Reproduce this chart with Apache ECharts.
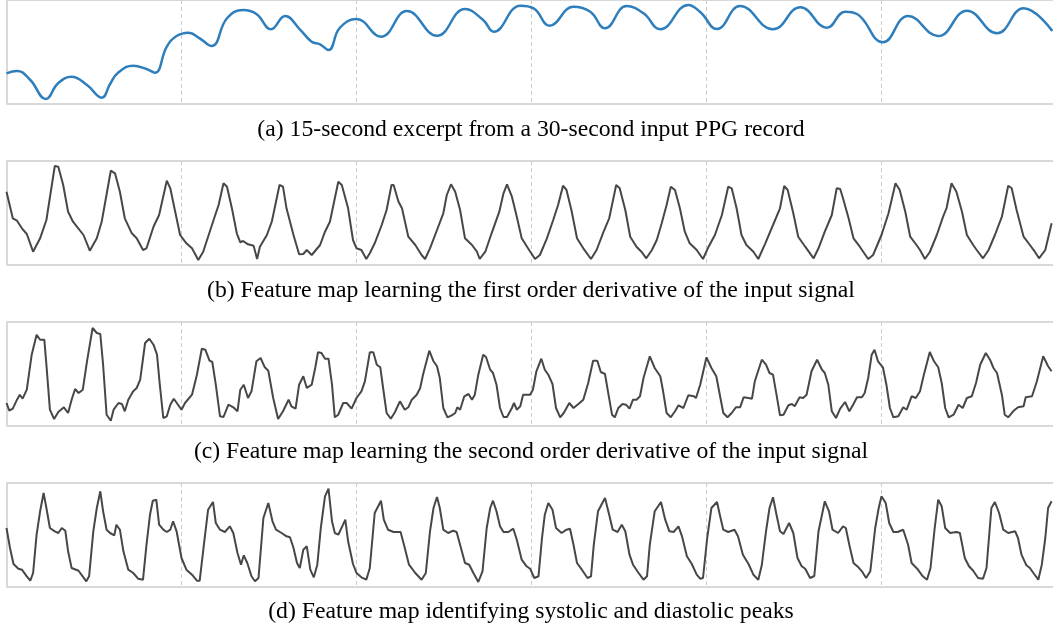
<!DOCTYPE html>
<html>
<head>
<meta charset="utf-8">
<script src="https://cdn.jsdelivr.net/npm/echarts@6/dist/echarts.min.js"></script>
<style>
html,body{margin:0;padding:0;background:#fff;}
#chart{width:1053px;height:628px;}
</style>
</head>
<body>
<div id="chart"></div>
<script>
// time (s) , amplitude (a.u.)
const ppgInput = [[0,30.7],[0.15,33],[0.34,24],[0.56,5],[0.74,21],[0.93,27.3],[1.15,19],[1.36,6.3],[1.48,20],[1.59,31],[1.81,38.3],[2.00,35],[2.12,31.3],[2.29,57.3],[2.43,68],[2.60,71.3],[2.76,65.7],[2.93,58],[3.15,85.7],[3.38,94],[3.57,90],[3.78,74.7],[3.98,88],[4.19,74.7],[4.36,62.3],[4.48,59.7],[4.60,54],[4.76,76],[5.00,85],[5.35,67.3],[5.72,93],[6.15,68.3],[6.55,95],[6.81,84],[6.96,72.3],[7.34,98.3],[7.53,95.7],[7.76,78.3],[8.10,97.3],[8.34,92.3],[8.55,75.7],[8.86,98],[9.10,90.7],[9.34,74.7],[9.74,99],[9.91,92],[10.15,75],[10.48,98],[10.95,74.7],[11.34,96.7],[11.72,76.3],[11.98,92.3],[12.15,90],[12.52,61.7],[12.88,88],[13.31,68],[13.72,93.3],[14.15,70.7],[14.53,95.7],[14.94,73]];

const firstDeriv = [[0.00,73.3],[0.09,46.7],[0.15,44.3],[0.22,36.7],[0.29,31],[0.38,13.3],[0.48,26.7],[0.57,45],[0.69,99],[0.74,98.3],[0.81,80],[0.88,53.3],[0.95,43.3],[1.10,30],[1.19,14.3],[1.29,26.7],[1.36,43.3],[1.49,94.3],[1.55,91.7],[1.62,73.3],[1.69,46.7],[1.79,31.7],[1.86,26.7],[1.95,15],[2.00,16.7],[2.10,38.3],[2.18,50],[2.29,84.3],[2.34,76.7],[2.41,53.3],[2.48,30],[2.57,21.7],[2.65,16.7],[2.74,5],[2.81,13.3],[2.88,28.3],[2.95,43.3],[3.03,60],[3.10,81.7],[3.15,78.3],[3.22,56.7],[3.29,31.7],[3.34,22.7],[3.38,24],[3.45,20.7],[3.53,19.3],[3.58,6],[3.62,18.3],[3.72,30],[3.79,43.3],[3.90,80],[3.95,78.3],[4.00,56.7],[4.10,30],[4.18,10.7],[4.24,11],[4.29,15],[4.36,10],[4.48,20],[4.55,33.3],[4.62,43.3],[4.74,83.3],[4.79,80],[4.88,56.7],[4.95,25],[5.00,16.7],[5.07,15],[5.14,6],[5.19,11.7],[5.26,21.7],[5.36,40],[5.43,55],[5.50,80],[5.53,80],[5.60,63.3],[5.65,56.7],[5.74,28.3],[5.84,20],[5.93,10],[5.98,6],[6.05,16.7],[6.15,35],[6.24,51.7],[6.29,70],[6.35,80.7],[6.41,73.3],[6.48,55],[6.55,26.7],[6.65,20],[6.72,13.3],[6.76,6],[6.84,13.3],[6.93,31.7],[7.04,53.3],[7.10,71.7],[7.15,80.7],[7.22,68.3],[7.29,48.3],[7.36,26.7],[7.45,16.7],[7.55,6],[7.62,10],[7.72,26.7],[7.81,45],[7.88,60],[7.95,79.3],[8.00,75],[8.07,55],[8.15,26.7],[8.24,16.7],[8.35,6],[8.43,15],[8.53,33.3],[8.61,46.7],[8.71,80],[8.76,76.7],[8.84,55],[8.91,28.3],[9.00,18.3],[9.07,13.3],[9.14,6.7],[9.22,15],[9.29,25],[9.36,41.7],[9.43,60],[9.49,78.3],[9.55,75],[9.62,56.7],[9.69,33.3],[9.76,21.7],[9.86,15],[9.95,6],[10.03,18.3],[10.12,30],[10.22,50],[10.31,78.3],[10.36,76.7],[10.43,56.7],[10.50,30],[10.57,20],[10.67,13.3],[10.74,6],[10.84,21.7],[10.95,40],[11.05,56.7],[11.11,79],[11.16,75],[11.24,51.7],[11.31,28.3],[11.41,18.3],[11.53,6.7],[11.60,16.7],[11.69,33.3],[11.79,50],[11.86,76.7],[11.91,76],[11.95,66.7],[12.03,46.7],[12.10,26.7],[12.19,18.3],[12.31,6],[12.38,10],[12.50,30],[12.60,51.7],[12.70,81.7],[12.76,75],[12.84,53.3],[12.91,28.3],[13.00,20],[13.05,15],[13.12,6],[13.19,13],[13.29,30],[13.38,48.3],[13.43,57],[13.50,81.7],[13.57,73.3],[13.65,53.3],[13.72,30],[13.81,20],[13.86,15],[13.95,6.7],[14.03,15],[14.12,30],[14.22,48.3],[14.31,79.3],[14.36,76.7],[14.43,55],[14.53,28.3],[14.62,20],[14.69,13.3],[14.75,6.7],[14.84,15],[14.93,41.7]];

const secondDeriv = [[0.00,23],[0.04,15.3],[0.09,17.3],[0.15,26.3],[0.19,31.3],[0.23,27.3],[0.29,36.3],[0.36,71.3],[0.43,91.3],[0.48,86.3],[0.54,86.3],[0.57,61.3],[0.62,16.3],[0.68,7],[0.74,14],[0.82,18.7],[0.88,13],[0.93,26.3],[0.98,37],[1.03,33],[1.09,36.3],[1.15,64.7],[1.23,98],[1.29,93],[1.34,92],[1.38,61.3],[1.43,11.3],[1.49,5.3],[1.53,16.3],[1.60,23],[1.65,22],[1.69,14.7],[1.74,26.3],[1.81,34.7],[1.86,38],[1.91,46.3],[1.98,83],[2.04,87.3],[2.10,81.3],[2.15,71.3],[2.19,41.3],[2.24,8],[2.29,9.7],[2.34,21.3],[2.39,27.3],[2.45,21.3],[2.50,16.3],[2.55,23],[2.65,31.3],[2.72,51.3],[2.79,77.3],[2.84,76.3],[2.90,65.3],[2.94,64],[2.99,41.3],[3.05,9.7],[3.10,9],[3.17,21.3],[3.24,18.7],[3.30,14.7],[3.34,36.3],[3.39,41.3],[3.45,28],[3.50,34.7],[3.57,64.7],[3.63,68],[3.69,58.7],[3.74,55.3],[3.81,28],[3.88,7],[3.95,14.7],[4.03,26.3],[4.07,19.7],[4.13,17.3],[4.18,41.3],[4.24,49.7],[4.29,38],[4.36,41.3],[4.41,58],[4.45,73.7],[4.50,73],[4.55,67.3],[4.60,67.3],[4.65,41.3],[4.69,8.7],[4.74,11.3],[4.81,23],[4.86,23],[4.93,17.3],[4.95,16.3],[5.00,28],[5.07,34.7],[5.12,44.7],[5.19,73.7],[5.24,73.7],[5.29,61.3],[5.34,58.7],[5.38,38],[5.43,13],[5.49,7.3],[5.55,14],[5.62,24.7],[5.69,16.3],[5.74,18.7],[5.79,26.3],[5.86,31.3],[5.91,38],[5.95,51.3],[6.04,75.3],[6.10,64.7],[6.15,59.7],[6.19,48],[6.24,18],[6.30,8.7],[6.36,10.7],[6.41,13],[6.44,18.7],[6.48,16.3],[6.54,29.7],[6.60,32],[6.65,26.3],[6.69,31.3],[6.74,51.3],[6.81,71.3],[6.85,69],[6.91,56.3],[6.95,53],[7.00,41.3],[7.05,18],[7.10,9],[7.15,9],[7.22,18],[7.25,23],[7.29,16.3],[7.34,19.7],[7.38,31.3],[7.48,31.3],[7.52,36.3],[7.57,54.7],[7.64,67.3],[7.69,56.3],[7.74,51.3],[7.80,42],[7.85,18],[7.91,8.7],[7.96,13],[8.04,23],[8.10,18],[8.17,22],[8.24,26.3],[8.31,43],[8.38,65.3],[8.44,65.3],[8.49,54],[8.55,52],[8.60,31.3],[8.65,11.3],[8.69,8.7],[8.74,18],[8.80,22],[8.85,21.3],[8.90,17.3],[8.95,26.3],[9.00,26.3],[9.05,29.7],[9.10,48],[9.19,69.7],[9.26,58],[9.34,49.7],[9.38,34.7],[9.43,13],[9.49,8.7],[9.55,14.7],[9.60,20.7],[9.67,18],[9.74,30.7],[9.82,29.7],[9.85,28],[9.91,41.3],[10.00,68.7],[10.07,58],[10.14,49.7],[10.19,31.3],[10.24,13],[10.30,8.7],[10.36,13],[10.42,18.7],[10.48,18.7],[10.53,28.7],[10.60,28],[10.65,27.3],[10.69,44.7],[10.79,66.3],[10.85,61.3],[10.90,53],[10.95,51.3],[11.00,31.3],[11.05,10.7],[11.10,11.3],[11.17,20.7],[11.22,22],[11.26,19.7],[11.33,28.7],[11.38,28],[11.43,31.3],[11.50,54.7],[11.58,66.3],[11.65,56.3],[11.69,53],[11.74,41.3],[11.79,14.7],[11.85,8],[11.91,17.3],[11.98,24],[12.04,14.7],[12.10,22],[12.15,28.7],[12.22,28.7],[12.26,33],[12.31,48],[12.36,71.3],[12.40,76.3],[12.45,64.7],[12.52,58.7],[12.57,41.3],[12.62,18],[12.67,8.7],[12.74,9.7],[12.81,18.7],[12.86,16.3],[12.93,29.7],[12.99,28],[13.05,34.7],[13.10,49.7],[13.19,74],[13.25,64.7],[13.31,58.7],[13.36,43],[13.41,18],[13.46,8.7],[13.53,11.3],[13.60,21.3],[13.66,18],[13.72,28],[13.79,29.7],[13.85,43],[13.91,61.3],[13.99,73],[14.05,66.3],[14.10,58],[14.15,53],[14.22,31.3],[14.26,11.3],[14.31,8.7],[14.38,14.7],[14.45,18.7],[14.53,19.7],[14.56,28.7],[14.65,29.7],[14.72,44.7],[14.81,69.7],[14.88,59.7],[14.93,54.7]];

const peakMap = [[0.00,59],[0.05,39],[0.10,23],[0.17,18.3],[0.22,17.3],[0.29,10.7],[0.34,6.3],[0.38,14],[0.43,52.3],[0.48,75.7],[0.53,94],[0.57,79],[0.62,59],[0.69,55.7],[0.74,54],[0.79,59],[0.84,56.3],[0.88,35.7],[0.93,19],[1.03,16.3],[1.07,12.3],[1.14,5.7],[1.18,10.7],[1.24,55.7],[1.29,79],[1.34,95.7],[1.38,75.7],[1.43,57.3],[1.48,54],[1.54,51.7],[1.57,62.3],[1.62,57.3],[1.67,35.7],[1.74,17.3],[1.81,14],[1.88,8.3],[1.95,7.3],[2.00,42.3],[2.05,72.3],[2.09,86.3],[2.14,87.3],[2.18,62.3],[2.24,57.3],[2.29,55],[2.34,57.3],[2.38,65.7],[2.43,55.7],[2.50,29],[2.57,17.3],[2.65,12.3],[2.72,6.3],[2.76,6.3],[2.82,42.3],[2.88,77.3],[2.95,85],[2.99,64],[3.05,57.3],[3.12,55],[3.19,60.7],[3.24,54],[3.30,34],[3.35,22.3],[3.39,31.7],[3.44,24],[3.50,10.7],[3.55,5.7],[3.60,9],[3.67,69],[3.74,84],[3.80,65.7],[3.85,57.3],[3.93,54],[4.00,50.7],[4.05,49.7],[4.10,39],[4.15,24],[4.19,19],[4.24,37.3],[4.29,40.7],[4.34,17.3],[4.39,9.7],[4.44,22.3],[4.49,59],[4.55,90.7],[4.60,98.3],[4.65,65.7],[4.69,54],[4.74,52.3],[4.79,59.7],[4.84,67.3],[4.88,45.7],[4.95,23],[5.00,14],[5.07,9.7],[5.14,7.3],[5.19,19],[5.26,74],[5.35,86.3],[5.39,67.3],[5.45,57.3],[5.53,55],[5.63,55],[5.69,39],[5.75,22.3],[5.84,14],[5.93,7.3],[5.99,14],[6.05,55.7],[6.10,79],[6.15,90],[6.19,79],[6.24,57.3],[6.31,54],[6.38,56.3],[6.43,55],[6.48,42.3],[6.55,24],[6.61,22.3],[6.67,14],[6.74,5],[6.80,15.7],[6.86,59],[6.91,79],[6.95,86.3],[7.00,75.7],[7.05,60.7],[7.10,55],[7.17,55],[7.24,58.3],[7.29,47.3],[7.36,27.3],[7.43,20.7],[7.48,18.3],[7.54,9],[7.60,10.7],[7.65,49],[7.69,72.3],[7.74,84],[7.80,77.3],[7.85,59],[7.93,54],[8.00,57.3],[8.05,58.3],[8.10,42.3],[8.15,24],[8.22,17.3],[8.30,9],[8.35,10.7],[8.39,42.3],[8.45,75.7],[8.55,89],[8.61,72.3],[8.66,57.3],[8.73,55],[8.79,62.3],[8.84,55.7],[8.90,32.3],[8.95,22.3],[9.03,14],[9.10,7.3],[9.15,10.7],[9.19,42.3],[9.26,75.7],[9.35,85],[9.41,67.3],[9.47,55.7],[9.53,55],[9.60,60.7],[9.65,50.7],[9.72,30.7],[9.79,23],[9.81,21.7],[9.86,12.3],[9.91,8.3],[9.95,9],[10.01,49],[10.07,79],[10.15,85],[10.19,72.3],[10.24,57.3],[10.31,55],[10.40,57.3],[10.45,50.7],[10.52,32.3],[10.60,23],[10.67,12.3],[10.74,7.3],[10.79,22],[10.85,55.7],[10.90,79],[10.95,89.7],[11.00,72.3],[11.05,55.7],[11.10,53],[11.18,64],[11.24,54],[11.30,29],[11.36,20.7],[11.41,18.3],[11.48,9],[11.54,11],[11.60,55.7],[11.65,72.3],[11.69,85.7],[11.75,75.7],[11.80,57.3],[11.88,54],[11.95,60.7],[11.99,59],[12.04,42.3],[12.10,24],[12.17,19.7],[12.22,15.7],[12.28,9],[12.34,15.7],[12.41,59],[12.46,79],[12.50,90.7],[12.56,84],[12.61,64],[12.67,55],[12.73,55],[12.81,57.3],[12.88,42.3],[12.93,24],[13.01,18.3],[13.09,10.7],[13.15,7.3],[13.20,19],[13.26,59],[13.31,87.3],[13.36,80.7],[13.41,59],[13.48,54],[13.57,55],[13.62,54],[13.69,29],[13.75,20.7],[13.81,16.3],[13.88,9],[13.95,8.3],[14.00,19],[14.07,79],[14.12,85],[14.18,74],[14.24,57.3],[14.31,54],[14.41,55.7],[14.45,49],[14.50,32.3],[14.57,21.7],[14.62,19],[14.67,14],[14.74,7.3],[14.79,22.3],[14.84,49],[14.88,79],[14.93,85.7]];

const captions = [
  "(a) 15-second excerpt from a 30-second input PPG record",
  "(b) Feature map learning the first order derivative of the input signal",
  "(c) Feature map learning the second order derivative of the input signal",
  "(d) Feature map identifying systolic and diastolic peaks"
];
const seriesData = [ppgInput, firstDeriv, secondDeriv, peakMap];
const lineColors = ['#2f7ebc', '#474747', '#474747', '#474747'];
const timeMax = 14.95;   // visible part of the 15 s window
const ampMax = 104;

// layout
const panels = [
  {top: 0,   capY: 130},
  {top: 161, capY: 291},
  {top: 322, capY: 452},
  {top: 483, capY: 612}
];

const chart = echarts.init(document.getElementById('chart'), null, {renderer: 'canvas'});
const grid = [], xAxis = [], yAxis = [], series = [], graphic = [];
const frame = {color: '#d9d9d9', width: 2};
panels.forEach((p, i) => {
  grid.push({left: 6.5, right: 0, top: p.top, height: 104, show: false, containLabel: false});
  xAxis.push({type: 'value', gridIndex: i, min: 0, max: timeMax, interval: 2.5,
    axisLine: {show: false}, axisTick: {show: false}, axisLabel: {show: false},
    splitLine: {show: true, showMinLine: false, showMaxLine: false,
      lineStyle: {type: [4, 3], color: '#cccccc', width: 1}}});
  yAxis.push({type: 'value', gridIndex: i, min: 0, max: ampMax, interval: ampMax,
    axisLine: {show: true, lineStyle: frame}, axisTick: {show: false}, axisLabel: {show: false},
    splitLine: {show: true, lineStyle: frame}});
  series.push({type: 'line', xAxisIndex: i, yAxisIndex: i, data: seriesData[i],
    showSymbol: false, smooth: i === 0 ? 0.45 : false, z: 5,
    lineStyle: {color: lineColors[i], width: i === 0 ? 2.5 : 2}, animation: false});
  graphic.push({type: 'text', x: 531, y: p.capY,
    style: {text: captions[i], fill: '#000', font: '23.7px "Liberation Serif"',
      textAlign: 'center', textVerticalAlign: 'middle'}});
});

chart.setOption({animation: false, grid, xAxis, yAxis, series, graphic});
</script>
</body>
</html>
